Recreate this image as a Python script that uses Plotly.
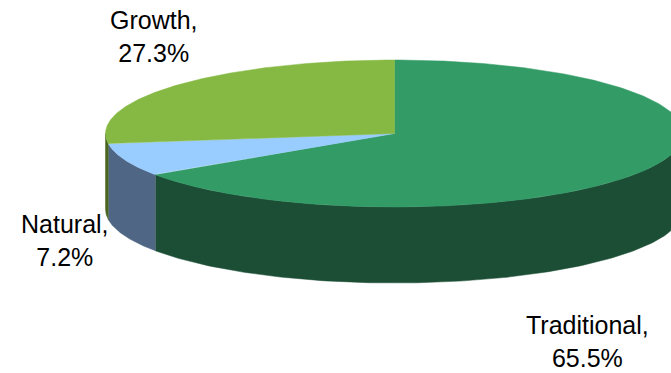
import numpy as np
import plotly.graph_objects as go

categories = ["Traditional", "Natural", "Growth"]
shares = [65.5, 7.2, 27.3]
top_colors = ["#339B66", "#99CCFF", "#85B943"]
wall_colors = ["#1C4E36", "#4F6685", "#4A6520"]

WIDTH, HEIGHT = 671, 373
CX, CY = 394.5, 133.5   # centre of the tilted disc
RX, RY = 289.0, 73.5    # ellipse radii of the disc
DEPTH = 76.0            # height of the side wall


def rim(t):
    """Points on the disc edge; t is the clockwise angle from 12 o'clock."""
    return CX + RX * np.sin(t), CY - RY * np.cos(t)


fig = go.Figure()
edges = np.concatenate([[0.0], np.cumsum(shares)]) / 100 * 2 * np.pi

# Side walls first, only along the front half of the rim.
for i in range(len(shares)):
    lo, hi = max(edges[i], np.pi / 2), min(edges[i + 1], 3 * np.pi / 2)
    if hi <= lo:
        continue
    t = np.linspace(lo, hi, 160)
    x, y = rim(t)
    fig.add_trace(go.Scatter(
        x=np.concatenate([x, x[::-1]]),
        y=np.concatenate([y, y[::-1] + DEPTH]),
        mode="lines", fill="toself", fillcolor=wall_colors[i],
        line=dict(color=wall_colors[i], width=0.5),
        hoverinfo="skip", showlegend=False,
    ))

# Top faces of the three slices.
for i in range(len(shares)):
    t = np.linspace(edges[i], edges[i + 1], 240)
    x, y = rim(t)
    fig.add_trace(go.Scatter(
        x=np.concatenate([[CX], x, [CX]]),
        y=np.concatenate([[CY], y, [CY]]),
        mode="lines", fill="toself", fillcolor=top_colors[i],
        line=dict(color=top_colors[i], width=0.5),
        name=categories[i], hoverinfo="name", showlegend=False,
    ))

# Slice labels carry the category and its share.
label_pos = {"Traditional": (587.5, 341), "Natural": (64.5, 240.5), "Growth": (153.5, 36)}
for name, share in zip(categories, shares):
    lx, ly = label_pos[name]
    fig.add_annotation(
        x=lx, y=ly, text=f"{name},<br>{share}%", showarrow=False,
        font=dict(family="Liberation Sans, Arial, sans-serif", size=25, color="#000000"),
        align="center", xanchor="center", yanchor="middle",
    )

fig.update_layout(
    width=WIDTH, height=HEIGHT,
    margin=dict(l=0, r=0, t=0, b=0),
    paper_bgcolor="#FFFFFF", plot_bgcolor="#FFFFFF",
    xaxis=dict(range=[0, WIDTH], visible=False, fixedrange=True),
    yaxis=dict(range=[HEIGHT, 0], visible=False, fixedrange=True),
)
fig.write_html("out.html", config={"displayModeBar": False})
